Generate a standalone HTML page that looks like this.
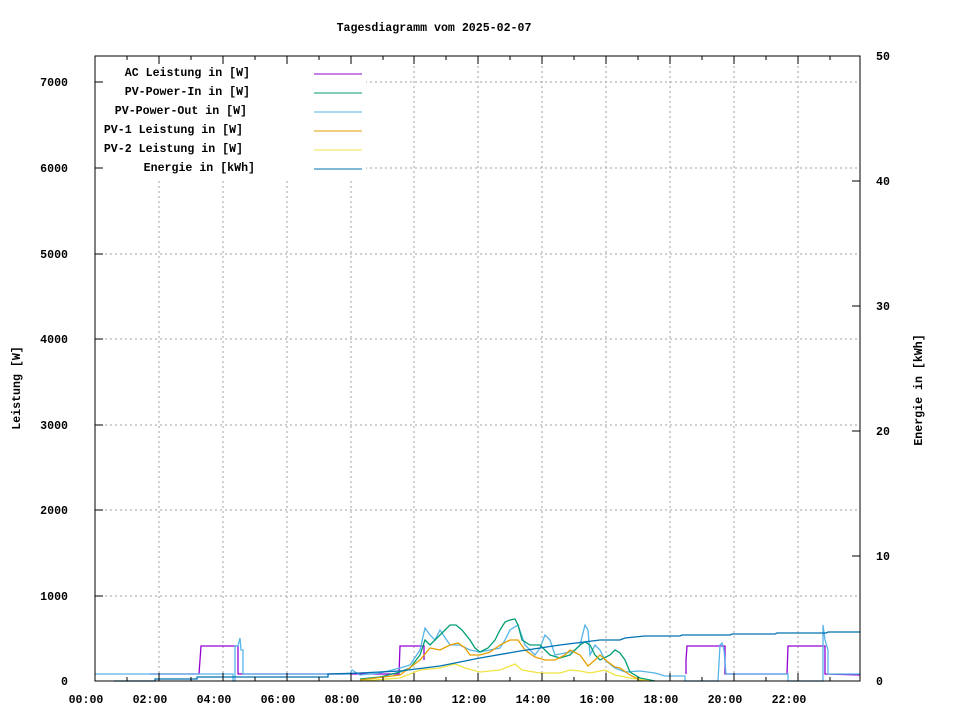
<!DOCTYPE html>
<html><head><meta charset="utf-8"><style>
html,body{margin:0;padding:0;background:#fff}
svg text{font-family:"Liberation Mono",monospace;font-size:11.6px;font-weight:bold;fill:#000}
</style></head><body>
<svg width="960" height="720" viewBox="0 0 960 720" xmlns="http://www.w3.org/2000/svg">
<rect width="960" height="720" fill="#fff"/>
<g stroke="#a0a0a0" stroke-dasharray="2,3" stroke-width="1">
<line x1="95" y1="596" x2="860" y2="596"/><line x1="95" y1="510" x2="860" y2="510"/>
<line x1="95" y1="425" x2="860" y2="425"/><line x1="95" y1="339" x2="860" y2="339"/>
<line x1="95" y1="254" x2="860" y2="254"/><line x1="95" y1="168" x2="860" y2="168"/>
<line x1="95" y1="82" x2="860" y2="82"/>
<line x1="159" y1="56" x2="159" y2="681"/><line x1="223" y1="56" x2="223" y2="681"/>
<line x1="287" y1="56" x2="287" y2="681"/><line x1="351" y1="56" x2="351" y2="681"/>
<line x1="414" y1="56" x2="414" y2="681"/><line x1="478" y1="56" x2="478" y2="681"/>
<line x1="542" y1="56" x2="542" y2="681"/><line x1="606" y1="56" x2="606" y2="681"/>
<line x1="670" y1="56" x2="670" y2="681"/><line x1="734" y1="56" x2="734" y2="681"/>
<line x1="798" y1="56" x2="798" y2="681"/>
</g>
<rect x="96" y="57" width="270" height="121" fill="#fff"/>
<text x="434" y="31" text-anchor="middle">Tagesdiagramm vom 2025-02-07</text>
<g text-anchor="end">
<text x="68" y="685">0</text><text x="68" y="600">1000</text><text x="68" y="514">2000</text>
<text x="68" y="429">3000</text><text x="68" y="343">4000</text><text x="68" y="258">5000</text>
<text x="68" y="172">6000</text><text x="68" y="86">7000</text>
</g>
<g>
<text x="876" y="685">0</text><text x="876" y="560">10</text><text x="876" y="435">20</text>
<text x="876" y="310">30</text><text x="876" y="185">40</text><text x="876" y="60">50</text>
</g>
<g text-anchor="middle">
<text x="86" y="703">00:00</text><text x="150" y="703">02:00</text><text x="214" y="703">04:00</text>
<text x="278" y="703">06:00</text><text x="342" y="703">08:00</text><text x="405" y="703">10:00</text>
<text x="469" y="703">12:00</text><text x="533" y="703">14:00</text><text x="597" y="703">16:00</text>
<text x="661" y="703">18:00</text><text x="725" y="703">20:00</text><text x="789" y="703">22:00</text>
</g>
<text transform="translate(20,388) rotate(-90)" text-anchor="middle">Leistung [W]</text>
<text transform="translate(922,390) rotate(-90)" text-anchor="middle">Energie in [kWh]</text>
<g text-anchor="end">
<text x="250" y="76">AC Leistung in [W]</text>
<text x="250" y="95">PV-Power-In in [W]</text>
<text x="247" y="114">PV-Power-Out in [W]</text>
<text x="243" y="133">PV-1 Leistung in [W]</text>
<text x="243" y="152">PV-2 Leistung in [W]</text>
<text x="255" y="171">Energie in [kWh]</text>
</g>
<g stroke-width="1">
<line x1="314" y1="74" x2="362" y2="74" stroke="#9400d3"/>
<line x1="314" y1="93" x2="362" y2="93" stroke="#009e73"/>
<line x1="314" y1="112" x2="362" y2="112" stroke="#56b4e9"/>
<line x1="314" y1="131" x2="362" y2="131" stroke="#e69f00"/>
<line x1="314" y1="150" x2="362" y2="150" stroke="#f0e442"/>
<line x1="314" y1="169" x2="362" y2="169" stroke="#0072b2"/>
</g>
<g fill="none" stroke-width="1.3">
<polyline stroke="#9400d3" points="150,674 199,674 200,660 201,646 238,646 238,674 399,674 400,646 424,646 424,660"/>
<polyline stroke="#9400d3" points="686,674 686,660 687,646 725,646 725,674 787,674 788,646 825,646 825,674 860,675"/>
<polyline stroke="#56b4e9" points="95,674 233,674 233,681 235,681 235,646 238,646 240,638 241,650 243,650 243,674 350,674 352,670 360,675 380,673 400,668 410,665 420,650 425,628 430,635 435,640 440,630 450,645 460,645 470,650 480,652 490,650 500,648 505,640 510,630 518,625 525,645 535,655 540,648 545,635 550,640 555,655 570,652 575,650 580,645 585,625 588,630 590,655 595,645 600,650 605,660 615,668 625,672 640,671 655,673 665,676 685,676 685,681 718,681 720,645 722,643 724,650 726,674 788,674 788,681 823,681 823,625 825,640 828,650 828,674 860,674"/>
<polyline stroke="#009e73" points="360,679 380,677 400,672 410,668 420,655 425,640 430,645 440,635 450,625 456,625 462,630 470,640 475,648 480,652 488,648 495,640 500,630 505,622 510,620 515,619 518,625 522,640 530,645 540,645 545,650 550,655 560,658 570,655 575,650 580,645 585,642 590,645 595,655 600,660 610,655 615,650 620,653 625,660 630,672 640,678 650,680 655,681"/>
<polyline stroke="#e69f00" points="360,680 400,675 420,660 430,648 440,650 450,645 458,643 465,648 470,655 480,655 490,652 500,645 510,640 518,640 525,650 535,657 545,660 555,660 565,655 570,650 580,655 588,666 595,660 600,655 608,662 615,667 620,668 630,675 640,680 650,681"/>
<polyline stroke="#f0e442" points="360,681 400,678 420,670 440,668 455,664 465,668 480,672 500,670 515,664 522,670 540,673 560,673 570,670 580,671 590,673 605,670 615,675 630,678 650,681"/>
<polyline stroke="#0072b2" points="114,681 155,681 155,679 197,679 197,677 328,677 328,674 360,673 400,671 440,666 480,658 520,651 560,645 600,640 620,640 625,638 645,636 680,636 682,635 730,635 732,634 775,634 777,633 826,633 828,632 860,632"/>
</g>
<g stroke="#000" stroke-width="1" fill="none">
<rect x="95" y="56" width="765" height="625"/>
<path d="M95 596h8M95 510h8M95 425h8M95 339h8M95 254h8M95 168h8M95 82h8
M860 556h-8M860 431h-8M860 306h-8M860 181h-8
M159 681v-8M223 681v-8M287 681v-8M351 681v-8M414 681v-8M478 681v-8M542 681v-8M606 681v-8M670 681v-8M734 681v-8M798 681v-8
M159 56v8M223 56v8M287 56v8M351 56v8M414 56v8M478 56v8M542 56v8M606 56v8M670 56v8M734 56v8M798 56v8
M127 681v-4M191 681v-4M255 681v-4M319 681v-4M383 681v-4M446 681v-4M510 681v-4M574 681v-4M638 681v-4M702 681v-4M766 681v-4M830 681v-4
M127 56v4M191 56v4M255 56v4M319 56v4M383 56v4M446 56v4M510 56v4M574 56v4M638 56v4M702 56v4M766 56v4M830 56v4"/>
</g>
</svg>
</body></html>
